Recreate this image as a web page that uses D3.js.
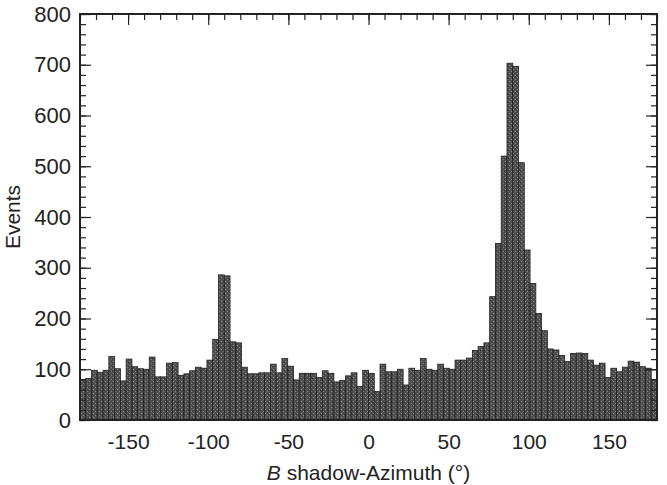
<!DOCTYPE html>
<html>
<head>
<meta charset="utf-8">
<title>B shadow azimuth</title>
<script src="https://d3js.org/d3.v7.min.js"></script>
<style>
  body { margin: 0; background: #fff; }
  svg text { font-family: "Liberation Sans", Arial, sans-serif; fill: #222; }
</style>
</head>
<body>
<svg id="chart" width="667" height="485"></svg>
<script>
// histogram of B shadow azimuth, 100 bins of 3.6 degrees from -180 to 180
var binStart = -180;
var binWidth = 3.6;
var counts = [
  80, 82, 98, 94, 98, 125, 101, 77, 120, 105,
  101, 100, 124, 85, 85, 112, 113, 88, 91, 97,
  104, 102, 118, 159, 286, 284, 154, 152, 104, 91,
  91, 93, 93, 110, 93, 121, 106, 79, 92, 92,
  92, 84, 97, 92, 75, 78, 87, 93, 66, 98,
  92, 56, 110, 95, 95, 100, 69, 102, 98, 121,
  100, 98, 110, 102, 100, 118, 118, 122, 137, 145,
  152, 243, 348, 520, 703, 697, 507, 335, 269, 210,
  176, 140, 138, 127, 115, 131, 132, 131, 118, 108,
  112, 84, 102, 95, 104, 116, 114, 105, 102, 80
];
var xTicks = [-150, -100, -50, 0, 50, 100, 150];
var yTicks = [0, 100, 200, 300, 400, 500, 600, 700, 800];
var xLabel = "shadow-Azimuth (\u00b0)";
var yLabel = "Events";

var svg = d3.select("#chart");
var mLeft = 80, mRight = 657, mTop = 14, mBottom = 420;

var x = d3.scaleLinear().domain([-180, 180]).range([mLeft, mRight]);
var y = d3.scaleLinear().domain([0, 800]).range([mBottom, mTop]);

// halftone-ish fill like the scanned figure
var defs = svg.append("defs");
var pat = defs.append("pattern")
    .attr("id", "tex")
    .attr("width", 4).attr("height", 4)
    .attr("patternUnits", "userSpaceOnUse");
pat.append("rect").attr("width", 4).attr("height", 4).attr("fill", "#505050");
pat.append("rect").attr("x", 1).attr("y", 1).attr("width", 1).attr("height", 1).attr("fill", "#909090");
pat.append("rect").attr("x", 3).attr("y", 3).attr("width", 1).attr("height", 1).attr("fill", "#7c7c7c");
pat.append("rect").attr("x", 0).attr("y", 2).attr("width", 1).attr("height", 1).attr("fill", "#333");

var bins = counts.map(function(c, i) {
  return { x0: binStart + i * binWidth, x1: binStart + (i + 1) * binWidth, n: c };
});

svg.append("g").selectAll("rect")
  .data(bins)
  .join("rect")
    .attr("x", function(d) { return x(d.x0); })
    .attr("width", function(d) { return x(d.x1) - x(d.x0); })
    .attr("y", function(d) { return y(d.n); })
    .attr("height", function(d) { return y(0) - y(d.n); })
    .attr("fill", "url(#tex)")
    .attr("stroke", "#1e1e1e")
    .attr("stroke-width", 0.8);

// minor ticks
var minorY = d3.range(0, 801, 20);
var minorX = d3.range(-180, 181, 10);
var hyphen = function(d) { return String(d); };

function inward(axis, g) {
  g.call(axis);
  g.select(".domain").remove();
  g.selectAll("line").attr("stroke", "#222").attr("stroke-width", 1.2);
}

inward(d3.axisLeft(y).tickValues(minorY).tickSize(-6).tickFormat(""),
  svg.append("g").attr("transform", "translate(" + mLeft + ",0)"));
inward(d3.axisRight(y).tickValues(minorY).tickSize(-6).tickFormat(""),
  svg.append("g").attr("transform", "translate(" + mRight + ",0)"));
inward(d3.axisTop(x).tickValues(minorX).tickSize(-6).tickFormat(""),
  svg.append("g").attr("transform", "translate(0," + mTop + ")"));

var yAx = svg.append("g").attr("transform", "translate(" + mLeft + ",0)");
inward(d3.axisLeft(y).tickValues(yTicks).tickSize(-11).tickPadding(9).tickFormat(hyphen), yAx);
yAx.selectAll("text").attr("font-size", 22).attr("fill", "#222");

inward(d3.axisRight(y).tickValues(yTicks).tickSize(-11).tickFormat(""),
  svg.append("g").attr("transform", "translate(" + mRight + ",0)"));
inward(d3.axisTop(x).tickValues(xTicks).tickSize(-11).tickFormat(""),
  svg.append("g").attr("transform", "translate(0," + mTop + ")"));

var xAx = svg.append("g").attr("transform", "translate(0," + mBottom + ")");
inward(d3.axisBottom(x).tickValues(xTicks).tickSize(0).tickPadding(14).tickFormat(hyphen), xAx);
xAx.selectAll("text").attr("font-size", 21).attr("fill", "#222");

// frame
svg.append("rect")
  .attr("x", mLeft).attr("y", mTop)
  .attr("width", mRight - mLeft).attr("height", mBottom - mTop)
  .attr("fill", "none").attr("stroke", "#222").attr("stroke-width", 2);

// axis titles
var xt = svg.append("text")
  .attr("x", (mLeft + mRight) / 2).attr("y", 480)
  .attr("text-anchor", "middle").attr("font-size", 21);
xt.append("tspan").attr("font-style", "italic").text("B");
xt.append("tspan").text(" " + xLabel);

svg.append("text")
  .attr("transform", "translate(20," + ((mTop + mBottom) / 2) + ") rotate(-90)")
  .attr("text-anchor", "middle").attr("font-size", 21)
  .text(yLabel);
</script>
</body>
</html>
